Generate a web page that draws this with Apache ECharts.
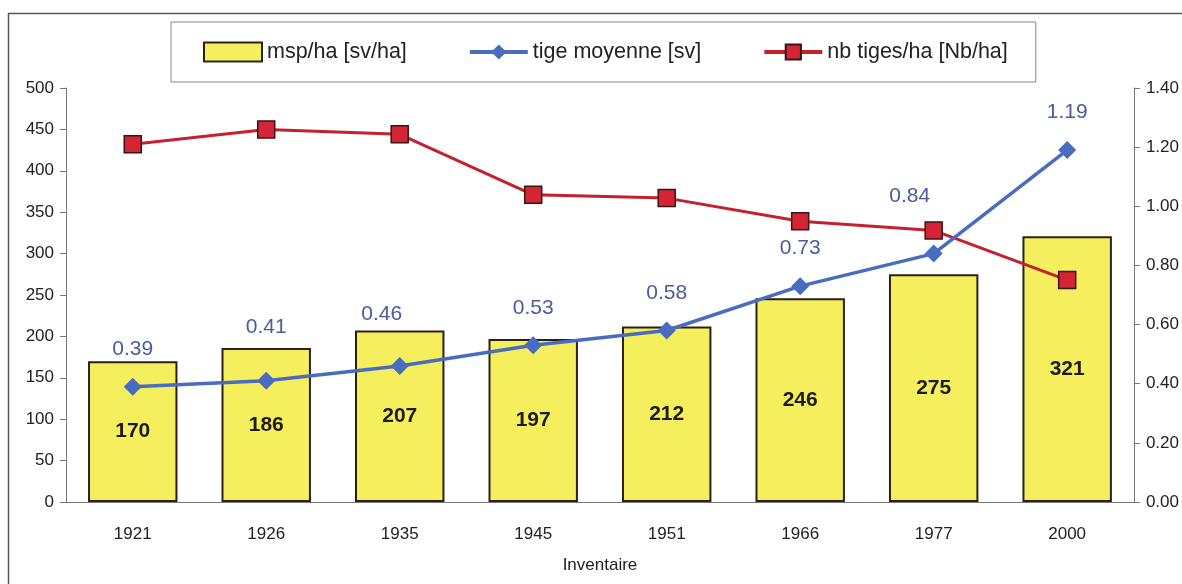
<!DOCTYPE html>
<html><head><meta charset="utf-8">
<script src="https://cdn.jsdelivr.net/npm/echarts@6/dist/echarts.min.js"></script>
<style>html,body{margin:0;padding:0;background:#fff}#c{width:1182px;height:584px}</style>
</head><body><div id="c"></div>
<script>
const categories = ['1921','1926','1935','1945','1951','1966','1977','2000'];
const mspHa = [170, 186, 207, 197, 212, 246, 275, 321];
const tigeMoyenne = [0.39, 0.41, 0.46, 0.53, 0.58, 0.73, 0.84, 1.19];
const nbTigesHa = [432, 450, 444, 371, 367, 339, 328, 268];
const seriesNames = ['msp/ha [sv/ha]', 'tige moyenne [sv]', 'nb tiges/ha [Nb/ha]'];
const xAxisName = 'Inventaire';

// label placement tweaks (style only)
const blueLabelOffsets = [[0,0],[0,-16],[-18,-14],[0,0],[0,0],[0,0],[-24,-20],[0,0]];

const font = 'Liberation Sans, Arial, sans-serif';
const chart = echarts.init(document.getElementById('c'));
chart.setOption({
  backgroundColor: '#fff',
  animation: false,
  textStyle: { fontFamily: font },
  graphic: [{
    type: 'rect', shape: { x: 8.5, y: 13.5, width: 1200, height: 600 },
    style: { fill: 'none', stroke: '#555', lineWidth: 1.5 }, z: -10
  }],
  legend: {
    left: 171, top: 22,
    padding: [19, 28, 19, 32],
    borderColor: '#888', borderWidth: 1,
    itemGap: 61, itemWidth: 58, itemHeight: 19,
    lineStyle: { width: 4 },
    textStyle: { fontSize: 21.5, color: '#222', fontFamily: font },
    data: [
      { name: seriesNames[0], icon: 'rect' },
      { name: seriesNames[1] },
      { name: seriesNames[2] }
    ]
  },
  grid: { left: 66, right: 48, top: 88, bottom: 82, containLabel: false },
  xAxis: {
    type: 'category', data: categories,
    name: xAxisName, nameLocation: 'middle', nameGap: 55,
    nameTextStyle: { fontSize: 17, color: '#222' },
    axisLine: { lineStyle: { color: '#777' } },
    axisTick: { length: 6, lineStyle: { color: '#777' } },
    axisLabel: { fontSize: 17, color: '#222', margin: 24 }
  },
  yAxis: [{
    type: 'value', min: 0, max: 500, interval: 50,
    axisLine: { show: true, lineStyle: { color: '#777' } },
    axisTick: { show: true, length: 6, lineStyle: { color: '#777' } },
    splitLine: { show: false },
    axisLabel: { fontSize: 17, color: '#222', margin: 12 }
  }, {
    type: 'value', min: 0, max: 1.4, interval: 0.2,
    position: 'right',
    axisLine: { show: true, lineStyle: { color: '#777' } },
    axisTick: { show: true, length: 6, lineStyle: { color: '#777' } },
    splitLine: { show: false },
    axisLabel: { fontSize: 17, color: '#222', margin: 12, formatter: v => v.toFixed(2) }
  }],
  series: [{
    name: seriesNames[0], type: 'bar', data: mspHa, barWidth: '67%',
    itemStyle: { color: '#f5ef5e', borderColor: '#2a2216', borderWidth: 2 },
    label: { show: true, position: 'inside', fontSize: 21, fontWeight: 'bold', color: '#1e1a14', fontFamily: font },
    z: 1
  }, {
    name: seriesNames[2], type: 'line', data: nbTigesHa, yAxisIndex: 0,
    symbol: 'rect', symbolSize: 17,
    lineStyle: { color: '#c4202e', width: 3 },
    itemStyle: { color: '#d42436', borderColor: '#3a1414', borderWidth: 1.5 },
    z: 3
  }, {
    name: seriesNames[1], type: 'line', yAxisIndex: 1,
    data: tigeMoyenne.map((v, i) => ({ value: v, label: { offset: blueLabelOffsets[i] } })),
    symbol: 'diamond', symbolSize: 18,
    lineStyle: { color: '#4a6cc0', width: 3.5 },
    itemStyle: { color: '#4a6cc0' },
    label: { show: true, position: 'top', distance: 18, fontSize: 21, color: '#4a5c9c', formatter: p => p.value.toFixed(2) },
    z: 4
  }]
});
</script></body></html>
